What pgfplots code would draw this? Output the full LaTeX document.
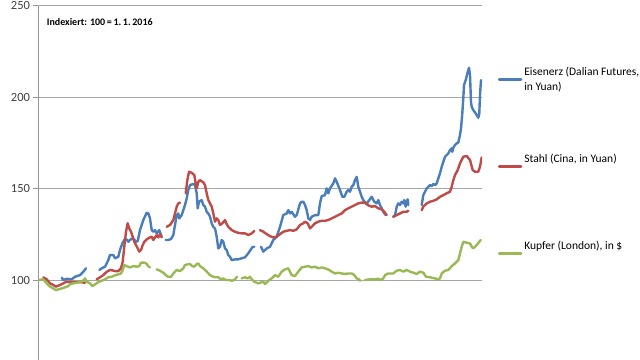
\documentclass[border=0pt]{standalone}
\usepackage{fontspec}
\setmainfont{Carlito}
\usepackage{pgfplots}
\pgfplotsset{compat=1.18}
\definecolor{cblue}{HTML}{4A7EBB}
\definecolor{cred}{HTML}{BE4B48}
\definecolor{cgreen}{HTML}{98B954}
\definecolor{cgrid}{HTML}{A6A6A6}
\definecolor{ctext}{HTML}{404040}
\begin{document}
\begin{tikzpicture}
\begin{axis}[
  name=ax, at={(0,0)}, anchor=south west,
  scale only axis, width=443.5bp, height=354.4bp,
  xmin=38.5, xmax=482, ymin=56.3, ymax=250,
  axis y line*=left, axis x line=none,
  ytick={100,150,200,250},
  ymajorgrids, grid style={draw=cgrid, line width=0.75bp},
  y axis line style={draw=cgrid!90!black, line width=0.75bp},
  major tick length=5bp, tick align=outside,
  ytick style={draw=cgrid!90!black, line width=0.75bp},
  yticklabel style={font=\fontsize{12.5bp}{14bp}\selectfont, text=ctext, /pgf/number format/assume math mode=true},
  unbounded coords=jump,
  every axis plot/.append style={line width=2.4bp, line join=round, line cap=round, mark=none},
  legend image code/.code={\draw[#1] (0bp,0bp) -- (22bp,0bp);},
  legend style={at={(1.0354,0.8326)}, anchor=north west, draw=none, fill=none,
    font=\fontsize{11.5bp}{15bp}\selectfont, row sep=58bp,
    cells={align=left, anchor=west, inner xsep=1.5bp}, inner sep=0pt},
  legend cell align=left,
]
\addplot[cblue] coordinates {
(61.7,101.3) (63.3,100) (66.7,100.7) (71.7,100.4) (75,101.8) (80,102.7) (83.3,104.5) (86,106.4)
(92,nan)
(99.3,105.5) (101.7,106.4) (105,107.3) (108.3,110.9) (110,113.7) (113.3,113.7) (115,111.9) (118.3,112.7) (120,116.4) (122.3,120) (124.3,121.9) (126.7,122.2) (128.3,120.9) (130,121.9) (132.3,122.8) (134.3,122.2) (135.7,120.9) (137.7,121.3) (140,127.3) (143.3,132.8) (146.7,136.8) (148.3,136.4) (150,133.7) (151.7,127.3) (153.3,126.4) (155,127.3) (156.7,125.5) (159.3,127.3) (161.7,123.7)
(163.5,nan)
(165.7,121.9) (168.3,121.9) (171,122.4) (173.3,124.6) (175,130.1) (176.7,135.5) (178.3,136.4) (179.3,133.7) (181.7,135.5) (183.3,138.2) (185,141) (186.7,144.6) (188.3,149.2) (190,151.9) (193.3,152.5) (195,151.9) (196.7,147.4) (197.7,139.2) (199,142.8) (201.7,143.7) (203.3,141) (205,140.1) (206.7,137.3) (208.3,136.4) (210,134.6) (211.7,131) (213.3,129.1) (215,128.2) (216.7,123.7) (218.3,117.3) (220,118.2) (221.7,121.9) (223.3,120.9) (225,117.3) (226.7,116.4) (228.3,113.7) (230,112.7) (231.7,110.9) (235,111.3) (238.3,111.3) (241.7,111.9) (245,112.4) (248.3,114.6) (252.3,117.9) (254.3,118.2)
(257,nan)
(261,118.2) (263.3,115.5) (266.7,117.3) (270,118.2) (273.3,121.9) (276.7,123.7) (280,129.1) (283.3,135.5) (286.7,136.4) (288.3,138.2) (290,136.4) (291.7,137.3) (295,134.6) (296.7,135.5) (300,141.9) (301.7,142.8) (303.3,142.8) (305,141) (306.7,138.2) (308.3,133.7) (310,132.8) (311.7,134.6) (315,135.5) (318.3,135.5) (320,141.9) (321.7,145.9) (325,146.4) (326.7,150.1) (328.3,147.4) (330,150.1) (333.3,152.8) (335,155.6) (336.7,153.7) (340,149.2) (342.3,145.5) (344.3,145.5) (346.7,148.3) (348.3,149.2) (350,148.3) (351.7,151) (353.3,151.9) (355,154.6) (356.7,156.4) (358.3,151) (360,148.3) (361.7,145.5) (363.3,143.7) (366.7,141.5) (368.3,143) (371.7,145.5) (374.3,142.8) (376.7,141.9) (378.3,143.7) (380,141) (381.7,139.2) (383.3,137.3) (385.7,135.5)
(389,nan)
(393.3,134.6) (395,135.5) (396.7,140.1) (398.3,141.9) (400,141) (401.7,142.8) (403.3,141.9) (404.3,143.7) (405.7,140.1) (406.7,142.8) (407.7,144.1) (408.3,141)
(415,nan)
(421.7,141) (423.3,146.4) (425,148.3) (426.7,150.1) (428.3,151) (430,151.9) (431.7,151.4) (433.3,152.5) (435,151.9) (436.7,152.8) (438.3,155.6) (440,158.3) (441.7,161.9) (443.3,164.6) (445,167.4) (446.7,168.3) (448.3,169.2) (450,171) (451.7,172) (452.3,170.1) (453.3,172.3) (455,173.8) (456.7,174.7) (458.3,175.2) (460,179.2) (461,182.9) (462.3,191.1) (463.3,199.3) (464,206.5) (465.7,209.3) (467.3,212.9) (469,216) (470,212) (471,197.4) (471.7,194.7) (473.3,192.9) (475,191.6) (476.7,190.2) (478.3,188.7) (479.3,191.1) (480,201.1) (481,209.3)
};
\addlegendentry{Eisenerz (Dalian Futures,\\in Yuan)\strut}
\addplot[cred] coordinates {
(43.3,101.5) (46.7,100.4) (50,98.2) (53.3,97.3) (55.7,96.4) (60,97.3) (63.3,98.2) (66.7,99.1) (70,98.9) (75,98.9) (80,98.9) (85,98.5)
(90,nan)
(96.7,100.4) (100,101.5) (103.3,102.7) (105.7,104) (108.3,105.1) (111,105.5) (115,104.9) (118.3,104.9) (121,106.4) (122.7,110) (124.3,118.2) (126,126.4) (127.7,131) (129.3,128.2) (131,126.4) (132.7,123.7) (134.3,120.9) (136,119.1) (137.7,117.3) (139.3,115.5) (141,116.4) (142.7,119.1) (144.3,120.9) (146.7,122.2) (148.3,122.8) (150,123.3) (151.7,123.7) (153.3,121.9) (156.7,124.6) (158.3,123.3) (160,125.1) (161.7,123.3)
(164,nan)
(166.7,129.1) (170,130.1) (173.3,132.8) (175,136.4) (176.7,140.1) (178.3,141.9) (180,142.3)
(183,nan)
(185.7,147.4) (187.3,154.6) (189,159.2) (191.7,158.6) (194.3,157.4) (195.7,152.8) (196.7,150.1) (198.3,153.7) (200,154.6) (203.3,153.4) (205,151.9) (206.7,147.4) (208.3,143.7) (210,141.9) (211.7,140.1) (213.3,136.4) (215,131.9) (216.7,133.7) (218.3,132.8) (220,130.1) (222.3,131) (225,132.8) (226.7,130.6) (228.3,129.1) (231.7,127.3) (235,126.4) (238.3,125.8) (241.7,125.5) (245,125.5) (248.3,124.6) (251.7,125.5) (254.3,126.8)
(257,nan)
(260,127.3) (263.3,126.4) (266.7,125.1) (270,124) (273.3,123.3) (276.7,123.7) (280,125.1) (283.3,126.4) (286.7,126.9) (290,127.3) (293.3,126.9) (296.7,127.7) (300,130.1) (303.3,131) (305,131.9) (307.7,131) (310,128.2) (311.7,129.1) (315,131) (318.3,131.9) (321.7,132.4) (325,132.4) (328.3,132.8) (331.7,133.7) (335,134.6) (338.3,135.5) (341.7,136.4) (345,138.2) (348.3,139.2) (351.7,140.1) (355,141) (358.3,141.9) (361.7,142.3) (365,142.3) (368.3,140.8) (371.7,140.1) (375,140.4) (378.3,139.2) (381.7,138.6) (384.3,137.3) (386.7,135.5)
(390,nan)
(393.3,134.6) (396.7,135.5) (400,136.4) (403.3,137.3) (406.7,137.3) (408.3,137.9)
(415,nan)
(421.7,138.2) (423.3,140.1) (426.7,141.9) (430,142.8) (433.3,143.3) (436.7,144.1) (440,145.5) (443.3,146.4) (446.7,147.4) (450,148.3) (451.7,151) (453.3,154.6) (455,157.4) (457.7,160.1) (460,163.8) (461.7,165.6) (463.3,167.4) (466.7,167.8) (470,165.6) (472.7,160.1) (475,159.2) (478.3,159.2) (480,162) (481.7,167)
};
\addlegendentry{Stahl (Cina, in Yuan)\\\strut}
\addplot[cgreen] coordinates {
(38.5,100) (43.3,100.4) (46.7,98.2) (50,96.4) (53.3,95.4) (55.7,94.5) (58.3,94.9) (61.7,95.4) (65,96) (68.3,96.7) (70,97.8) (73.3,98.2) (76.7,98.5) (80,98.9) (83.3,99.6) (85,100.9) (86.7,99.1) (90,98.2) (92.3,96.7) (95,97.6) (98.3,98.9) (101.7,99.6) (105,100.4) (108.3,101.5) (111.7,101.8) (115,102.6) (118.3,103.1) (121,103.6) (122.7,105.5) (124.3,108.2) (126.7,107.6) (130,106.9) (133.3,107.6) (136.7,107.3) (139.3,107.6) (141,109.5) (144.3,109.5) (146.5,109) (148.3,107.5) (150,106.9)
(153,nan)
(156.7,105.8) (160,105.1) (163.3,104) (165.7,102.7) (168.3,101.8) (171,101.8) (173.3,103.6) (176.7,105.5) (180,104.9) (183.3,106.4) (185,108.2) (187.7,108.6) (190,108.7) (192.3,107.6) (194.3,107.3) (196.7,108.7) (198.3,109.1) (200,107.6) (203.3,106.4) (206.7,104.6) (210,102.7) (213.3,101.8) (215.7,101.5) (218.3,101.5) (221,100.4) (223.3,100.9) (225.7,100) (229,100) (232.3,99.6) (235,100.4) (237,101.8)
(239.5,nan)
(241.7,100.9) (245,101.5) (247.7,100.9) (250,101.8) (251.7,100.4) (254.3,99.1) (257.7,98.2) (260,98.5) (263.3,99.1) (265,97.8) (268.3,99.6) (271.7,100.9) (275,102.7) (278.3,101.8) (281.7,104.6) (285,105.8) (288.3,106.4) (291.7,102.7) (295,102.2) (298.3,104.6) (301.7,106.9) (305,107.3) (308.3,107.6) (311.7,106.9) (315,107.3) (318.3,106.4) (321.7,106.9) (325,106.4) (328.3,105.8) (331.7,104.6) (335,103.6) (338.3,104) (341.7,103.6) (345,103.3) (348.3,103.6) (351.7,103.6) (354.3,102.7) (356.7,100.9) (359,100.4) (360,99.6)
(362.5,nan)
(365,100) (370,100.4) (375,100.4) (378.3,100.7) (380,100) (383.3,100.9) (385,102.7) (388.3,103.6) (393.3,103.6) (396.7,105.1) (400,105.5) (403.3,104.6) (406.7,105.5) (410,104.6) (413.3,104) (416.7,103.3) (420,104.6) (423.3,104) (426,101.8) (430,101.5) (435,100.9) (438.3,100.4) (440,100.9) (441.7,103.6) (445,105.1) (448.3,105.5) (451.7,107.6) (455,109.1) (458.3,110.9) (460,114.6) (461.7,118.2) (463.3,120.9) (466.7,120.4) (470,120) (471.7,118.2) (473.3,117.3) (476.7,119.1) (479.3,120.9) (480.7,121.9)
};
\addlegendentry{Kupfer (London), in \$\\\strut}
\node[anchor=base west, font=\bfseries\fontsize{10bp}{12bp}\selectfont, inner sep=0pt] at (axis cs:46.7,239.3) {Indexiert: 100\,=\,1.\,1.\,2016};
\end{axis}
\pgfresetboundingbox
\path (-38.5bp,0) rectangle (601.5bp,360bp);
\end{tikzpicture}
\end{document}
